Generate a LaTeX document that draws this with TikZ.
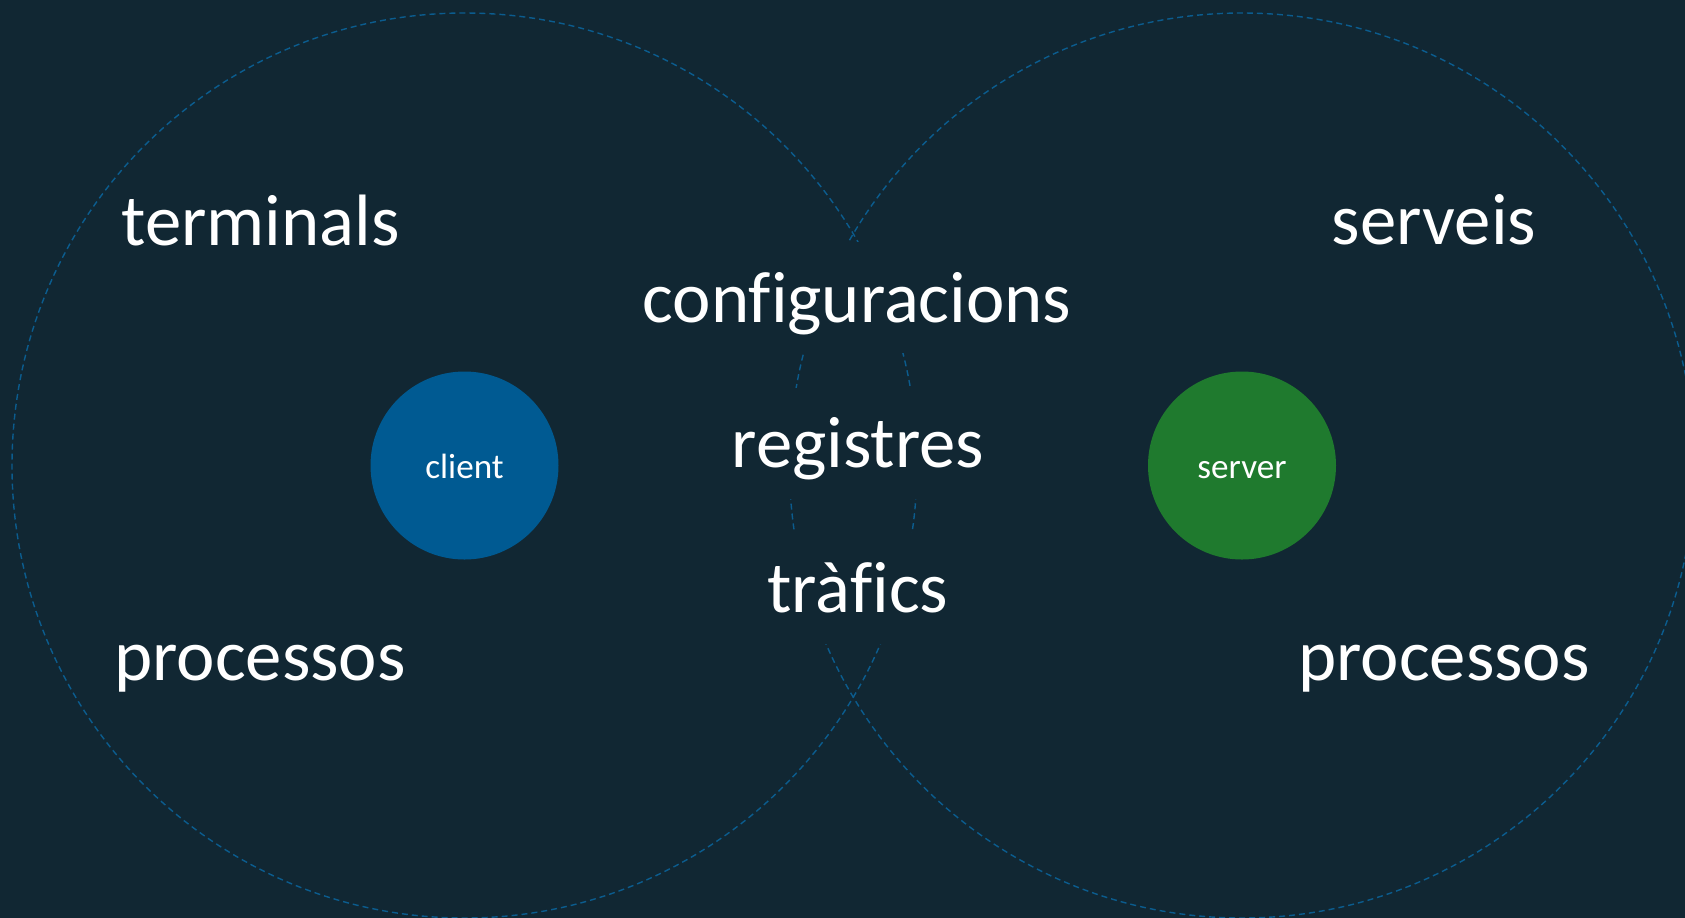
\documentclass[tikz,border=0pt]{standalone}
\usepackage{fontspec}
\setmainfont{Carlito}[Ligatures=NoCommon]
\usepackage{xcolor}
\definecolor{background}{RGB}{17,39,51}
\definecolor{ringblue}{RGB}{11,92,142}
\definecolor{clientblue}{RGB}{0,90,146}
\definecolor{servergreen}{RGB}{31,122,46}
\usepackage{tikz}
\usetikzlibrary{positioning}

\begin{document}
\begin{tikzpicture}[every node/.style={text=white,inner sep=1,outer sep=0},
    word/.style={anchor=base,font=\fontsize{20.7pt}{24pt}\selectfont},
    masked/.style={word,fill=background,text height=0.52cm,text depth=0.03cm,inner ysep=0.28cm,inner xsep=0.1cm},
    hub/.style={circle,minimum size=1.88cm,inner sep=0,text height=0.26cm,text depth=0cm,font=\fontsize{10pt}{12pt}\selectfont},
    ring/.style={draw=ringblue,line width=0.4pt,dash pattern=on 0.06cm off 0.04cm}]
	\useasboundingbox (0,0) rectangle (16.85,-9.17);
	\fill[background] (-0.2,0.2) rectangle (17.05,-9.4);
	% the two sides
	\node[hub,fill=clientblue] (client) at (4.645,-4.655) {client};
	\node[hub,fill=servergreen] (server) at (12.42,-4.655) {server};
	\draw[ring] (client.center) circle (4.525);
	\draw[ring] (server.center) circle (4.525);
	% words round them
	\node[word] (terminals) at (2.605,-2.45) {terminals};
	\node[word] (serveis) at (14.34,-2.44) {serveis};
	\node[word] (processosL) at (2.60,-6.80) {processos};
	\node[word] (processosR) at (14.44,-6.80) {processos};
	% shared middle
	\node[masked] (config) at (8.57,-3.22) {configuracions};
	\node[masked] (registres) at (8.58,-4.675) {registres};
	\node[masked] (trafics) at (8.58,-6.125) {tràfics};
\end{tikzpicture}
\end{document}
